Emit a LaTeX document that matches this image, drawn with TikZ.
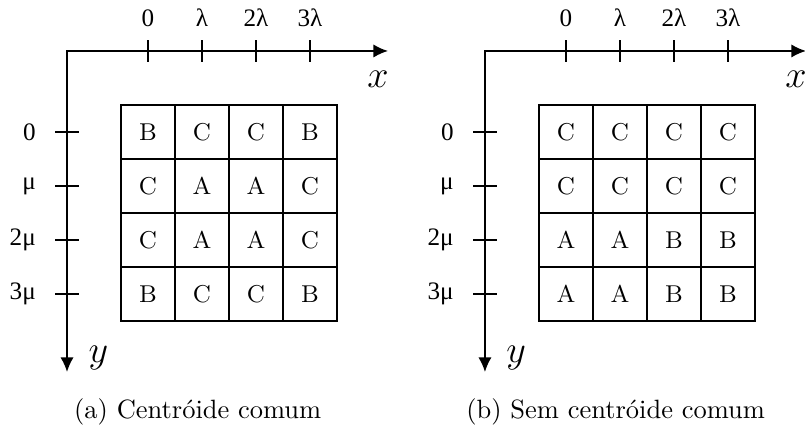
\documentclass[tikz,border=0pt]{standalone}
\usepackage{fontspec}
\newfontfamily\tickfont{Liberation Serif}
\usetikzlibrary{arrows.meta}

\tikzset{
  cell/.style={shape=rectangle, draw=black, line width=0.6pt, minimum size=20.4pt, inner sep=0pt, font=\fontsize{9.2}{10}\selectfont},
  axis/.style={line width=0.6pt, {Latex[length=5.5pt,width=5pt]}-{Latex[length=5.5pt,width=5pt]}},
  tickmark/.style={line width=0.6pt},
  ticklabel/.style={font=\tickfont\fontsize{9.5}{11}\selectfont, inner sep=1pt},
  axislabel/.style={font=\fontsize{14.4}{16}\selectfont},
}

\begin{document}
\begin{tikzpicture}[x=20.4pt, y=20.4pt]
\useasboundingbox (-1.241,0.944) rectangle (13.667,-7.056);
% (a) common centroid
\coordinate (Oa) at (0,0); \coordinate (Xa) at (5.944,0); \coordinate (Ya) at (0,-5.944);
\draw[axis] (Ya) -- (Oa) -- (Xa);
\draw[tickmark] (1.5,0.2) -- (1.5,-0.2); \draw[tickmark] (2.5,0.2) -- (2.5,-0.2);
\draw[tickmark] (3.5,0.2) -- (3.5,-0.2); \draw[tickmark] (4.5,0.2) -- (4.5,-0.2);
\draw[tickmark] (-0.22,-1.5) -- (0.22,-1.5); \draw[tickmark] (-0.22,-2.5) -- (0.22,-2.5);
\draw[tickmark] (-0.22,-3.5) -- (0.22,-3.5); \draw[tickmark] (-0.22,-4.5) -- (0.22,-4.5);
\node[ticklabel] (xa0) at (1.5,0.61) {0};
\node[ticklabel] (xa1) at (2.5,0.61) {λ};
\node[ticklabel] (xa2) at (3.5,0.61) {2λ};
\node[ticklabel] (xa3) at (4.5,0.61) {3λ};
\node[ticklabel, anchor=east] (ya0) at (-0.52,-1.5) {0};
\node[ticklabel, anchor=east] (ya1) at (-0.52,-2.5) {μ};
\node[ticklabel, anchor=east] (ya2) at (-0.52,-3.5) {2μ};
\node[ticklabel, anchor=east] (ya3) at (-0.52,-4.5) {3μ};
\node[axislabel] (xla) at (5.76,-0.52) {$x$};
\node[axislabel] (yla) at (0.58,-5.68) {$y$};
\node[cell] (a11) at (1.5,-1.5) {B}; \node[cell] (a12) at (2.5,-1.5) {C};
\node[cell] (a13) at (3.5,-1.5) {C}; \node[cell] (a14) at (4.5,-1.5) {B};
\node[cell] (a21) at (1.5,-2.5) {C}; \node[cell] (a22) at (2.5,-2.5) {A};
\node[cell] (a23) at (3.5,-2.5) {A}; \node[cell] (a24) at (4.5,-2.5) {C};
\node[cell] (a31) at (1.5,-3.5) {C}; \node[cell] (a32) at (2.5,-3.5) {A};
\node[cell] (a33) at (3.5,-3.5) {A}; \node[cell] (a34) at (4.5,-3.5) {C};
\node[cell] (a41) at (1.5,-4.5) {B}; \node[cell] (a42) at (2.5,-4.5) {C};
\node[cell] (a43) at (3.5,-4.5) {C}; \node[cell] (a44) at (4.5,-4.5) {B};
\node (capa) at (2.42,-6.69) {(a) Centróide comum};
% (b) no common centroid
\coordinate (Ob) at (7.74,0); \coordinate (Xb) at (13.684,0); \coordinate (Yb) at (7.74,-5.944);
\draw[axis] (Yb) -- (Ob) -- (Xb);
\draw[tickmark] (9.24,0.2) -- (9.24,-0.2); \draw[tickmark] (10.24,0.2) -- (10.24,-0.2);
\draw[tickmark] (11.24,0.2) -- (11.24,-0.2); \draw[tickmark] (12.24,0.2) -- (12.24,-0.2);
\draw[tickmark] (7.52,-1.5) -- (7.96,-1.5); \draw[tickmark] (7.52,-2.5) -- (7.96,-2.5);
\draw[tickmark] (7.52,-3.5) -- (7.96,-3.5); \draw[tickmark] (7.52,-4.5) -- (7.96,-4.5);
\node[ticklabel] (xb0) at (9.24,0.61) {0};
\node[ticklabel] (xb1) at (10.24,0.61) {λ};
\node[ticklabel] (xb2) at (11.24,0.61) {2λ};
\node[ticklabel] (xb3) at (12.24,0.61) {3λ};
\node[ticklabel, anchor=east] (yb0) at (7.22,-1.5) {0};
\node[ticklabel, anchor=east] (yb1) at (7.22,-2.5) {μ};
\node[ticklabel, anchor=east] (yb2) at (7.22,-3.5) {2μ};
\node[ticklabel, anchor=east] (yb3) at (7.22,-4.5) {3μ};
\node[axislabel] (xlb) at (13.5,-0.52) {$x$};
\node[axislabel] (ylb) at (8.32,-5.68) {$y$};
\node[cell] (b11) at (9.24,-1.5) {C}; \node[cell] (b12) at (10.24,-1.5) {C};
\node[cell] (b13) at (11.24,-1.5) {C}; \node[cell] (b14) at (12.24,-1.5) {C};
\node[cell] (b21) at (9.24,-2.5) {C}; \node[cell] (b22) at (10.24,-2.5) {C};
\node[cell] (b23) at (11.24,-2.5) {C}; \node[cell] (b24) at (12.24,-2.5) {C};
\node[cell] (b31) at (9.24,-3.5) {A}; \node[cell] (b32) at (10.24,-3.5) {A};
\node[cell] (b33) at (11.24,-3.5) {B}; \node[cell] (b34) at (12.24,-3.5) {B};
\node[cell] (b41) at (9.24,-4.5) {A}; \node[cell] (b42) at (10.24,-4.5) {A};
\node[cell] (b43) at (11.24,-4.5) {B}; \node[cell] (b44) at (12.24,-4.5) {B};
\node (capb) at (10.16,-6.69) {(b) Sem centróide comum};
\end{tikzpicture}
\end{document}
